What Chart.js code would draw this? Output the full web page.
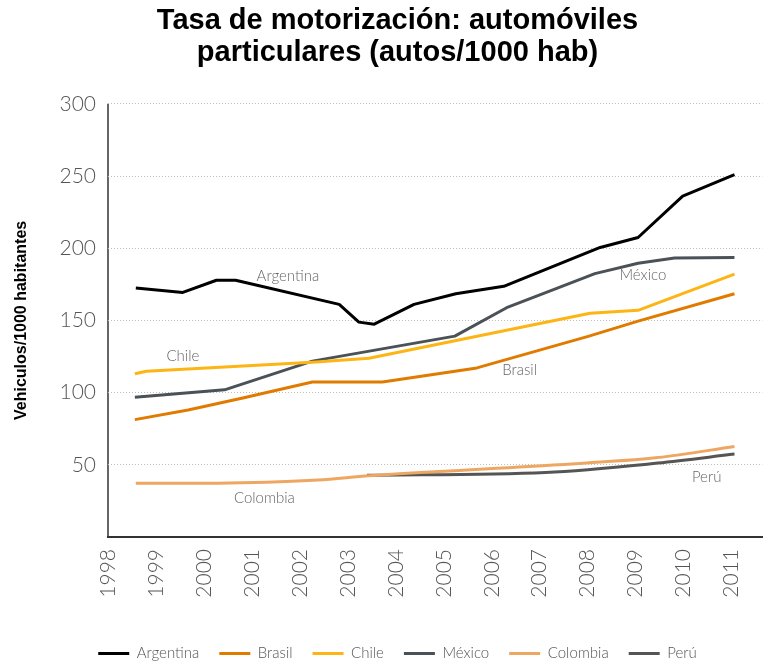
<!DOCTYPE html>
<html>
<head>
<meta charset="utf-8">
<script src="https://cdn.jsdelivr.net/npm/chart.js@4"></script>
<style>
  html, body { margin: 0; padding: 0; background: #fff; }
  #wrap { width: 769px; height: 666px; }
</style>
</head>
<body>
<div id="wrap"><canvas id="chart" width="769" height="666"></canvas></div>
<script>
// datos (años en eje x, autos/1000 hab en eje y)
const years = [1998, 1999, 2000, 2001, 2002, 2003, 2004, 2005, 2006, 2007, 2008, 2009, 2010, 2011];
const yTicks = [0, 50, 100, 150, 200, 250, 300];

const argentinaX = [1998.58, 1999.56, 2000.26, 2000.66, 2002.82, 2003.23, 2003.55, 2004.38, 2005.25, 2006.25, 2008.26, 2009.05, 2009.98, 2011.06];
const argentinaY = [172.4, 169.4, 177.8, 177.8, 161.1, 148.8, 147.4, 161.1, 168.5, 173.6, 200.5, 207.4, 236.1, 250.9];

const brasilX = [1998.56, 1999.67, 2000.81, 2002.26, 2003.72, 2005.69, 2008.01, 2009.05, 2011.06];
const brasilY = [81.3, 88, 96.3, 107.4, 107.4, 117.1, 138.9, 149.5, 168.5];

const chileX = [1998.56, 1998.8, 2002.26, 2003.44, 2008.05, 2009.05, 2011.06];
const chileY = [113, 114.8, 121, 123.8, 155, 157, 182];

const mexicoX = [1998.56, 2000.43, 2002.26, 2005.23, 2006.31, 2007.3, 2008.15, 2009.05, 2009.81, 2011.06];
const mexicoY = [96.8, 101.9, 121.8, 139.1, 158.8, 171.5, 182.4, 189.6, 193.2, 193.5];

const colombiaX = [1998.58, 2000.28, 2002.38, 2003.44, 2007.28, 2009.46, 2011.06];
const colombiaY = [37.3, 37.3, 39.4, 42.4, 49.8, 55, 62.7];

const peruX = [2003.4, 2007.12, 2009.46, 2011.06];
const peruY = [42.8, 44.7, 51.2, 57.4];

// etiquetas dentro del gráfico (en unidades de los ejes)
const lineLabels = [
    { text: 'Argentina', x: 2001.75, y: 180.5 },
    { text: 'Chile', x: 1999.56, y: 125 },
    { text: 'México', x: 2009.15, y: 181.2 },
    { text: 'Brasil', x: 2006.58, y: 115.3 },
    { text: 'Colombia', x: 2001.26, y: 27.1 },
    { text: 'Perú', x: 2010.48, y: 41.7 }
];

const LIGHT = "'Lato', 'Helvetica Neue', Arial, sans-serif";

function pairs(xs, ys) {
    return xs.map((x, i) => ({ x: x, y: ys[i] }));
}

function serie(label, xs, ys, color, smooth) {
    return {
        label: label,
        data: pairs(xs, ys),
        borderColor: color,
        backgroundColor: color,
        borderWidth: 3,
        pointRadius: 0,
        borderJoinStyle: 'round',
        borderCapStyle: 'butt',
        cubicInterpolationMode: smooth ? 'monotone' : 'default',
        tension: 0
    };
}

// dibuja los nombres de los países junto a las líneas
const inlineLabels = {
    id: 'inlineLabels',
    afterDatasetsDraw(chart) {
        const ctx = chart.ctx;
        const xs = chart.scales.x;
        const ys = chart.scales.y;
        ctx.save();
        ctx.font = '300 15px ' + LIGHT;
        ctx.fillStyle = '#666';
        ctx.textAlign = 'center';
        ctx.textBaseline = 'middle';
        lineLabels.forEach(l => {
            ctx.fillText(l.text, xs.getPixelForValue(l.x), ys.getPixelForValue(l.y));
        });
        ctx.restore();
    }
};

new Chart(document.getElementById('chart'), {
    type: 'line',
    data: {
        datasets: [
            serie('Argentina', argentinaX, argentinaY, '#000000', false),
            serie('Brasil', brasilX, brasilY, '#E07B00', false),
            serie('Chile', chileX, chileY, '#FDB515', false),
            serie('México', mexicoX, mexicoY, '#4B5257', false),
            serie('Colombia', colombiaX, colombiaY, '#EEA763', true),
            serie('Perú', peruX, peruY, '#555555', true)
        ]
    },
    options: {
        responsive: false,
        animation: false,
        layout: { padding: { left: 30, right: 4, top: 0, bottom: -5 } },
        plugins: {
            title: {
                display: true,
                text: ['Tasa de motorización: automóviles', 'particulares (autos/1000 hab)'],
                color: '#000',
                font: { family: "'Liberation Sans', Arial, sans-serif", size: 29, weight: 'bold', lineHeight: 1.1 },
                padding: { top: 5, bottom: 35 }
            },
            legend: {
                position: 'bottom',
                labels: {
                    usePointStyle: true,
                    pointStyle: 'line',
                    pointStyleWidth: 31,
                    color: '#555',
                    padding: 20,
                    font: { family: LIGHT, size: 15, weight: '300' }
                }
            },
            tooltip: { enabled: false }
        },
        scales: {
            x: {
                type: 'linear',
                min: 1998,
                max: 2011.64,
                afterBuildTicks: axis => {
                    axis.ticks = years.map(v => ({ value: v }));
                },
                afterFit: axis => { axis.height = 89; },
                // solo la línea del año 1998 sirve de eje vertical
                grid: {
                    display: true,
                    drawTicks: false,
                    lineWidth: 2,
                    color: c => (c.tick && c.tick.value === 1998) ? '#666' : 'rgba(0,0,0,0)'
                },
                border: { display: true, color: '#333', width: 2 },
                ticks: {
                    autoSkip: false,
                    minRotation: 90,
                    maxRotation: 90,
                    padding: 12,
                    color: '#555',
                    font: { family: LIGHT, size: 21, weight: '300' },
                    callback: v => String(v)
                }
            },
            y: {
                min: 0,
                max: 300,
                afterBuildTicks: axis => {
                    axis.ticks = yTicks.map(v => ({ value: v }));
                },
                afterFit: axis => { axis.width = 78; },
                grid: {
                    drawTicks: false,
                    lineWidth: 1,
                    color: c => (c.tick && c.tick.value === 0) ? 'rgba(0,0,0,0)' : '#bdbdbd'
                },
                border: { display: false, dash: [1, 2] },
                ticks: {
                    padding: 12,
                    color: '#555',
                    font: { family: LIGHT, size: 21, weight: '300' },
                    callback: v => v === 0 ? '' : String(v)
                },
                title: {
                    display: true,
                    text: 'Vehiculos/1000 habitantes',
                    color: '#000',
                    font: { family: "'Liberation Sans', Arial, sans-serif", size: 16, weight: 'bold' },
                    padding: { top: -18, bottom: 0 }
                }
            }
        }
    },
    plugins: [inlineLabels]
});
</script>
</body>
</html>
